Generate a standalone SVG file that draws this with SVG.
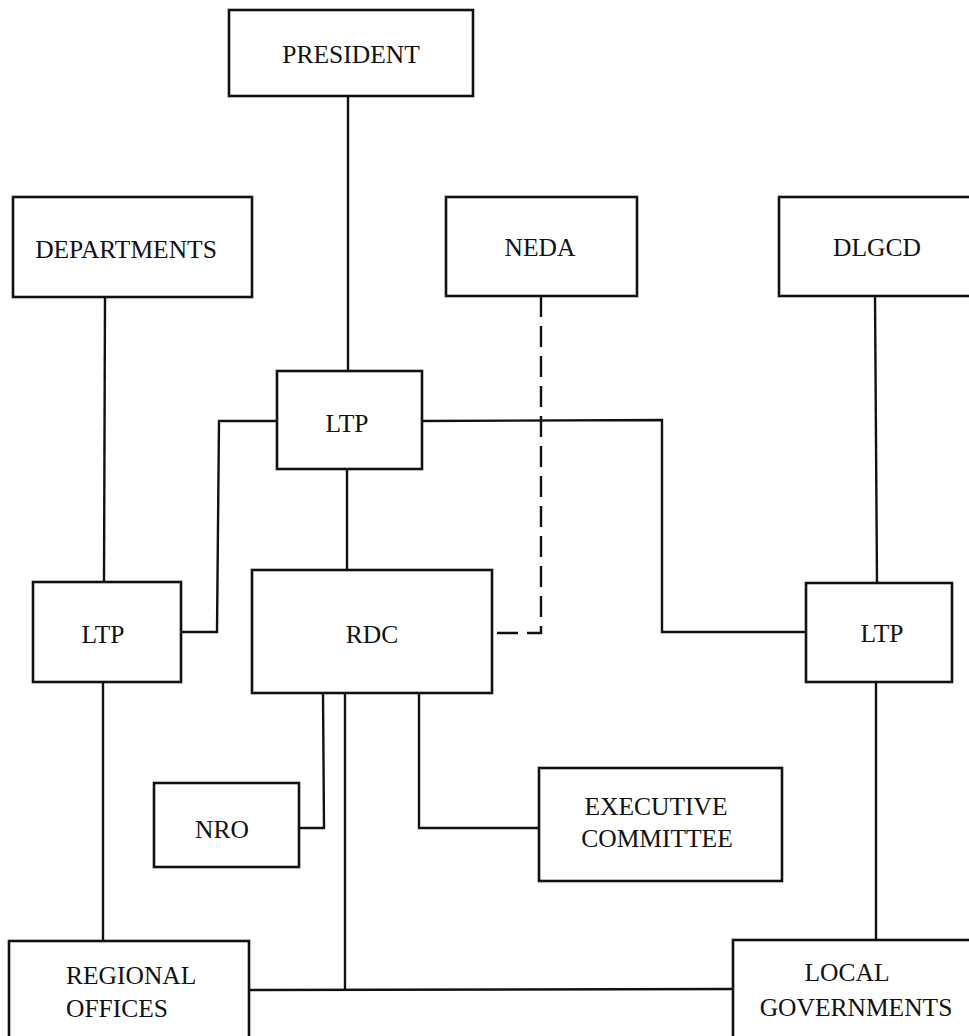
<svg xmlns="http://www.w3.org/2000/svg" width="969" height="1036" viewBox="0 0 969 1036">
<style>
.box{fill:#fff;stroke:#111;stroke-width:2.6}
.ln{fill:none;stroke:#111;stroke-width:2.4}
.dash{fill:none;stroke:#111;stroke-width:2.4;stroke-dasharray:21 9}
text{font-family:"Liberation Serif","Times New Roman",serif;font-size:25.5px;fill:#111}
.c{text-anchor:middle}
</style>
<rect width="969" height="1036" fill="#fff"/>
<g id="connectors">
<line class="ln" x1="348" y1="96" x2="348" y2="371"/>
<line class="ln" x1="105" y1="297" x2="104" y2="582"/>
<line class="ln" x1="875" y1="296" x2="877" y2="583"/>
<polyline class="ln" points="277,421 219,421 217,632 181,632"/>
<polyline class="ln" points="422,421 662,420 662,632 806,632"/>
<line class="ln" x1="347" y1="469" x2="347" y2="570"/>
<polyline class="dash" points="541,296 541,633 492,633"/>
<line class="ln" x1="103" y1="682" x2="103" y2="941"/>
<line class="ln" x1="876" y1="682" x2="876" y2="940"/>
<polyline class="ln" points="323,693 324,828 299,828"/>
<polyline class="ln" points="419,693 419,828 539,828"/>
<line class="ln" x1="345" y1="693" x2="345" y2="990"/>
<line class="ln" x1="249" y1="990" x2="733" y2="989"/>
</g>
<g id="president">
<rect class="box" x="229" y="10" width="244" height="86"/>
<text class="c" x="351" y="63">PRESIDENT</text>
</g>
<g id="departments">
<rect class="box" x="13" y="197" width="239" height="100"/>
<text class="c" x="126" y="258">DEPARTMENTS</text>
</g>
<g id="neda">
<rect class="box" x="446" y="197" width="191" height="99"/>
<text class="c" x="540" y="256">NEDA</text>
</g>
<g id="dlgcd">
<rect class="box" x="779" y="197" width="196" height="99"/>
<text class="c" x="877" y="256">DLGCD</text>
</g>
<g id="ltp-center">
<rect class="box" x="277" y="371" width="145" height="98"/>
<text class="c" x="347" y="432">LTP</text>
</g>
<g id="ltp-left">
<rect class="box" x="33" y="582" width="148" height="100"/>
<text class="c" x="103" y="643">LTP</text>
</g>
<g id="rdc">
<rect class="box" x="252" y="570" width="240" height="123"/>
<text class="c" x="372" y="643">RDC</text>
</g>
<g id="ltp-right">
<rect class="box" x="806" y="583" width="146" height="99"/>
<text class="c" x="882" y="642">LTP</text>
</g>
<g id="nro">
<rect class="box" x="154" y="783" width="145" height="84"/>
<text class="c" x="222" y="838">NRO</text>
</g>
<g id="executive-committee">
<rect class="box" x="539" y="768" width="243" height="113"/>
<text class="c" x="656" y="815">EXECUTIVE</text>
<text class="c" x="657" y="847">COMMITTEE</text>
</g>
<g id="regional-offices">
<rect class="box" x="9" y="941" width="240" height="100"/>
<text x="66" y="984">REGIONAL</text>
<text x="66" y="1017">OFFICES</text>
</g>
<g id="local-governments">
<rect class="box" x="733" y="940" width="245" height="100"/>
<text class="c" x="847" y="981">LOCAL</text>
<text class="c" x="856" y="1016">GOVERNMENTS</text>
</g>
</svg>
